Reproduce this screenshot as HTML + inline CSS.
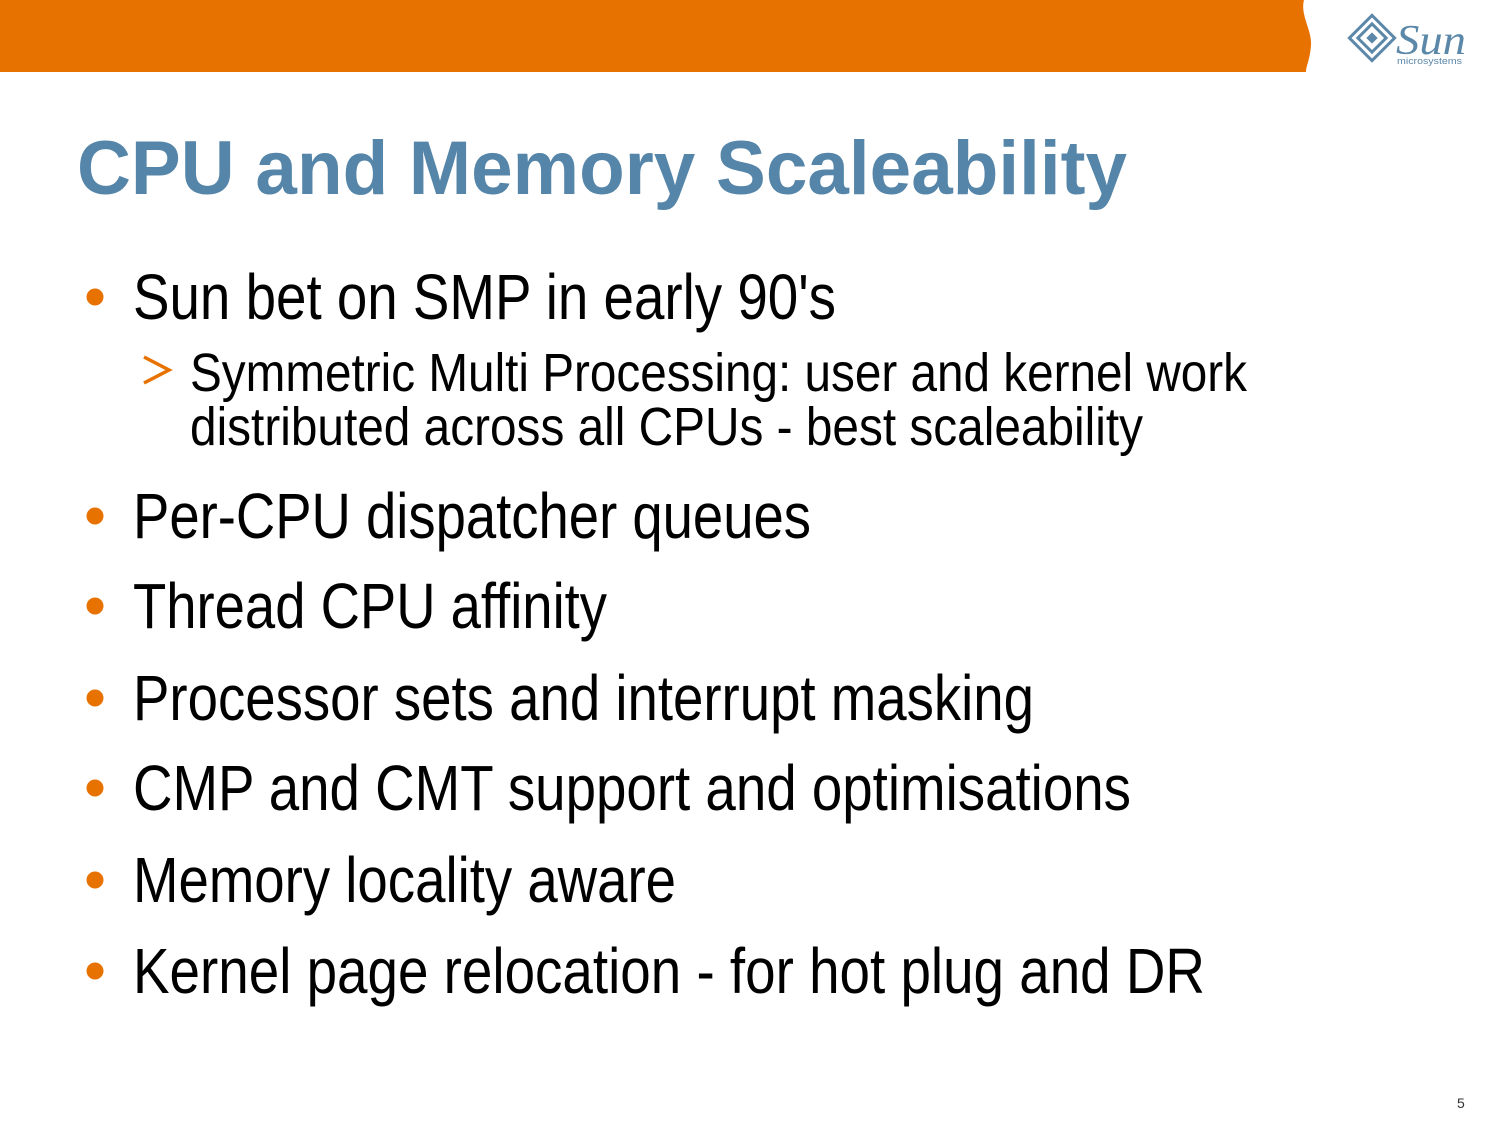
<!DOCTYPE html>
<html><head><meta charset="utf-8"><style>
html,body{margin:0;padding:0;background:#fff;}
svg{display:block;}
</style></head><body>
<svg width="1500" height="1125" viewBox="0 0 1500 1125" xmlns="http://www.w3.org/2000/svg">
<path d="M0 0 H1304 C1300 15 1312 30 1311 45 C1310 60 1306 66 1306 72 H0 Z" fill="#e87200"/>
<g fill="#5b87a8">
<g transform="translate(1372,38) rotate(45)">
<rect x="-16" y="-16" width="32" height="32" fill="none" stroke="#5b87a8" stroke-width="3"/>
<rect x="-10" y="-10" width="20" height="20" fill="none" stroke="#5b87a8" stroke-width="3"/>
<rect x="-4" y="-4" width="8" height="8"/>
</g>
<text x="1396" y="54" font-family="Liberation Serif, serif" font-style="italic" font-size="42" textLength="70" lengthAdjust="spacingAndGlyphs">Sun</text>
<text x="1397" y="64" font-family="Liberation Sans, sans-serif" font-size="9" textLength="65" lengthAdjust="spacingAndGlyphs">microsystems</text>
</g>
<text x="77" y="194" font-family="Liberation Sans, sans-serif" font-weight="bold" font-size="76" fill="#5585a8" textLength="1050" lengthAdjust="spacingAndGlyphs">CPU and Memory Scaleability</text>
<g fill="#e87200">
<circle cx="95" cy="297" r="8.5"/>
<circle cx="95" cy="516" r="8.5"/>
<circle cx="95" cy="606" r="8.5"/>
<circle cx="95" cy="698" r="8.5"/>
<circle cx="95" cy="788" r="8.5"/>
<circle cx="95" cy="880" r="8.5"/>
<circle cx="95" cy="971" r="8.5"/>
</g>
<path d="M144 357 L169 370 L144 383" fill="none" stroke="#e87200" stroke-width="3.5"/>
<g font-family="Liberation Sans, sans-serif" fill="#000">
<text x="133" y="319" font-size="64" textLength="703" lengthAdjust="spacingAndGlyphs">Sun bet on SMP in early 90's</text>
<text x="190" y="391" font-size="54" textLength="1057" lengthAdjust="spacingAndGlyphs">Symmetric Multi Processing: user and kernel work</text>
<text x="190" y="445" font-size="54" textLength="953" lengthAdjust="spacingAndGlyphs">distributed across all CPUs - best scaleability</text>
<text x="133" y="538" font-size="64" textLength="678" lengthAdjust="spacingAndGlyphs">Per-CPU dispatcher queues</text>
<text x="133" y="628" font-size="64" textLength="474" lengthAdjust="spacingAndGlyphs">Thread CPU affinity</text>
<text x="133" y="720" font-size="64" textLength="901" lengthAdjust="spacingAndGlyphs">Processor sets and interrupt masking</text>
<text x="133" y="810" font-size="64" textLength="998" lengthAdjust="spacingAndGlyphs">CMP and CMT support and optimisations</text>
<text x="133" y="902" font-size="64" textLength="543" lengthAdjust="spacingAndGlyphs">Memory locality aware</text>
<text x="133" y="993" font-size="64" textLength="1072" lengthAdjust="spacingAndGlyphs">Kernel page relocation - for hot plug and DR</text>
<text x="1457" y="1108" font-size="14" fill="#333">5</text>
</g>
</svg>
</body></html>
